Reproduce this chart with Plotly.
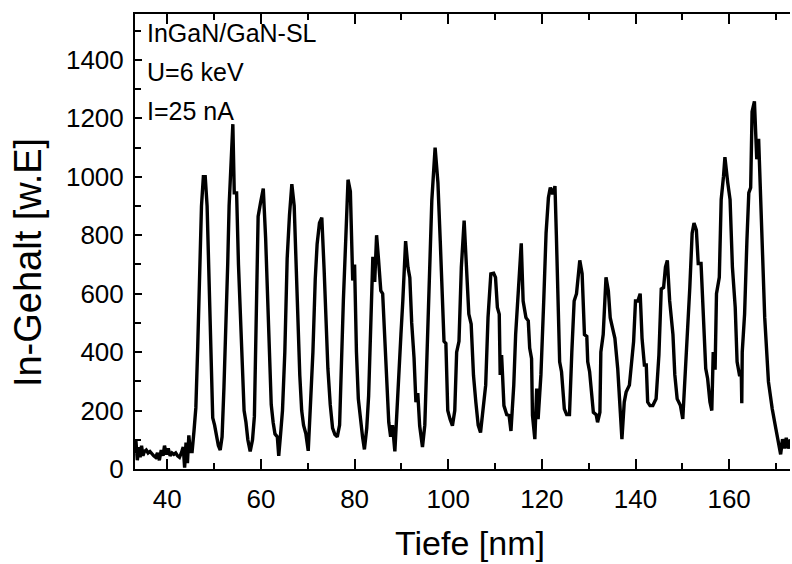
import plotly.graph_objects as go

# Depth [nm]
tiefe = [
    33.0, 33.3, 33.6, 33.9, 34.2, 34.5, 34.8, 35.1, 35.5, 35.9, 36.3, 36.7, 37.1, 37.5, 37.9,
    38.3, 38.7, 39.1, 39.4, 39.8, 40.2, 40.6, 41.0, 41.4, 41.8, 42.2, 42.6, 43.0, 43.4, 43.7,
    44.0, 44.3, 44.6, 44.9, 45.3, 45.7, 46.1, 46.5, 46.9, 47.3, 47.7, 48.1, 48.5, 48.9, 49.3,
    49.7, 50.1, 50.5, 50.9, 51.3, 51.7, 52.1, 52.5, 52.9, 53.2, 53.6, 54.0, 54.3, 54.8, 55.2,
    55.6, 56.0, 56.4, 56.8, 57.2, 57.7, 58.2, 58.6, 59.0, 59.4, 59.9, 60.5, 61.0, 61.4, 61.8,
    62.2, 62.6, 63.0, 63.5, 63.8, 64.2, 64.6, 65.1, 65.6, 66.1, 66.6, 67.1, 67.5, 67.9, 68.3,
    68.7, 69.1, 69.6, 70.1, 70.6, 71.1, 71.6, 72.0, 72.5, 73.0, 73.5, 73.9, 74.3, 74.8, 75.3,
    75.8, 76.3, 76.8, 77.2, 77.6, 78.1, 78.6, 79.1, 79.4, 79.6, 80.0, 80.4, 80.8, 81.3, 81.7,
    82.1, 82.6, 83.0, 83.5, 83.9, 84.3, 84.7, 85.1, 85.6, 86.0, 86.4, 86.8, 87.3, 87.7, 88.1,
    88.6, 89.0, 89.5, 89.9, 90.3, 90.9, 91.4, 91.8, 92.2, 92.7, 93.1, 93.5, 93.9, 94.5, 95.0,
    95.5, 96.0, 96.5, 97.2, 97.8, 98.3, 98.8, 99.1, 99.5, 99.9, 100.4, 100.9, 101.4, 101.8, 102.3,
    102.8, 103.4, 103.9, 104.4, 104.9, 105.4, 105.9, 106.4, 106.9, 107.5, 108.0, 108.5, 109.1, 109.7, 110.1,
    110.5, 110.9, 111.1, 111.4, 111.6, 111.9, 112.5, 113.0, 113.4, 114.0, 114.4, 115.0, 115.6, 116.0, 116.6,
    117.1, 117.4, 117.8, 118.0, 118.5, 118.9, 119.2, 119.8, 120.4, 120.9, 121.4, 121.8, 122.3, 122.8, 123.1,
    123.4, 123.8, 124.2, 124.8, 125.3, 125.9, 126.4, 126.9, 127.4, 128.1, 128.6, 129.1, 129.6, 129.8, 130.2,
    130.7, 131.0, 131.6, 131.9, 132.4, 132.6, 133.1, 133.7, 134.2, 134.6, 135.1, 135.6, 136.2, 136.7, 137.1,
    137.6, 138.0, 138.7, 139.3, 139.6, 140.0, 140.5, 141.0, 141.4, 141.9, 142.3, 142.6, 143.1, 143.7, 144.4,
    145.0, 145.5, 146.0, 146.4, 146.8, 147.3, 148.0, 148.4, 148.9, 149.6, 150.1, 150.8, 151.6, 152.1, 152.5,
    153.0, 153.4, 154.0, 154.4, 155.0, 155.4, 155.9, 156.3, 156.6, 157.0, 157.3, 157.9, 158.3, 158.8, 159.1,
    159.7, 160.2, 160.7, 161.3, 161.7, 162.2, 162.6, 162.7, 162.8, 163.3, 163.8, 164.2, 164.6, 164.9, 165.4,
    165.9, 166.3, 166.9, 167.6, 168.4, 169.2, 170.0, 170.5, 171.0, 171.4, 171.8, 172.2, 172.6, 173.0, 173.4,
]

# In content [arb. units]
gehalt = [
    55, 95, 30, 75, 40, 80, 45, 60, 65, 55, 60, 50, 45, 40, 55,
    30, 65, 45, 80, 50, 70, 45, 55, 50, 55, 45, 40, 55, 75, 5,
    90, 20, 115, 60, 60, 130, 210, 420, 690, 900, 1000, 1000, 900, 620, 380,
    175, 150, 120, 80, 65, 110, 280, 460, 700, 900, 1070, 1180, 945, 945, 700,
    520, 300, 200, 160, 100, 60, 100, 180, 500, 864, 910, 960, 790, 620, 460,
    220, 160, 120, 110, 45, 120, 200, 400, 720, 870, 975, 900, 700, 500, 320,
    200, 150, 120, 62, 229, 400, 650, 770, 842, 860, 680, 480, 344, 220, 140,
    118, 110, 150, 380, 575, 780, 990, 950, 700, 645, 700, 400, 240, 160, 110,
    67, 140, 250, 500, 726, 640, 800, 720, 610, 600, 480, 350, 160, 110, 150,
    60, 200, 380, 460, 575, 780, 690, 655, 500, 380, 229, 260, 148, 75, 150,
    390, 690, 920, 1100, 980, 780, 560, 437, 430, 200, 170, 148, 200, 400, 437,
    690, 850, 690, 530, 496, 320, 229, 150, 125, 206, 287, 518, 668, 670, 656,
    553, 530, 322, 390, 322, 217, 186, 183, 130, 287, 460, 633, 772, 575, 518,
    507, 414, 378, 183, 102, 275, 171, 322, 575, 807, 928, 963, 940, 968, 800,
    575, 367, 333, 206, 186, 186, 400, 575, 600, 714, 668, 460, 454, 367, 333,
    229, 194, 186, 160, 194, 400, 460, 656, 610, 518, 482, 447, 344, 229, 102,
    229, 263, 287, 390, 437, 575, 575, 600, 447, 356, 356, 229, 217, 217, 240,
    390, 616, 621, 691, 714, 575, 460, 322, 240, 217, 171, 367, 621, 807, 842,
    818, 703, 703, 575, 344, 310, 229, 200, 400, 340, 600, 656, 922, 1002, 1067,
    980, 922, 691, 553, 367, 322, 322, 225, 400, 530, 783, 945, 963, 1223, 1258,
    1060, 1130, 807, 518, 298, 206, 136, 90, 50, 102, 70, 107, 70, 100, 90,
]

xticks = [40, 60, 80, 100, 120, 140, 160]
yticks = [0, 200, 400, 600, 800, 1000, 1200, 1400]
info_lines = ["InGaN/GaN-SL", "U=6 keV", "I=25 nA"]

FONT = "Arial, Liberation Sans, sans-serif"

fig = go.Figure()
fig.add_trace(go.Scatter(
    x=tiefe, y=gehalt, mode="lines",
    line=dict(color="black", width=3.4),
    showlegend=False,
))

fig.update_layout(
    width=792, height=564,
    margin=dict(l=135, r=2, t=14, b=95),
    paper_bgcolor="white", plot_bgcolor="white",
    font=dict(family=FONT, color="black", size=26),
)

fig.update_xaxes(
    range=[33.1, 173.0],
    tickvals=xticks, ticktext=[str(v) for v in xticks],
    ticks="inside", ticklen=10, tickwidth=2, tickcolor="black",
    minor=dict(dtick=10, tick0=0, ticks="inside", ticklen=6, tickwidth=2, tickcolor="black"),
    showline=True, linecolor="black", linewidth=2, mirror="ticks",
    showgrid=False, zeroline=False,
    tickfont=dict(size=26, family=FONT),
    ticklabelstandoff=6,
)
fig.update_yaxes(
    range=[0, 1557],
    tickvals=yticks, ticktext=[str(v) for v in yticks],
    ticks="inside", ticklen=7, tickwidth=2, tickcolor="black",
    minor=dict(dtick=100, tick0=0, ticks="inside", ticklen=6, tickwidth=2, tickcolor="black"),
    showline=True, linecolor="black", linewidth=2,
    showgrid=False, zeroline=False,
    tickfont=dict(size=26, family=FONT),
    ticklabelstandoff=4,
)

ys = [0.958, 0.8725, 0.787]
for txt, yy in zip(info_lines, ys):
    fig.add_annotation(
        text=txt, xref="paper", yref="paper", x=0.015, y=yy,
        xanchor="left", yanchor="middle", showarrow=False,
        font=dict(size=25, family=FONT, color="black"),
    )

fig.add_annotation(
    text="Tiefe [nm]", xref="paper", yref="paper", x=0.511, y=-0.163,
    xanchor="center", yanchor="middle", showarrow=False,
    font=dict(size=34, family=FONT, color="black"),
)
fig.add_annotation(
    text="In-Gehalt [w.E]", xref="paper", yref="paper", x=-0.163, y=0.453,
    xanchor="center", yanchor="middle", showarrow=False, textangle=-90,
    font=dict(size=38, family=FONT, color="black"),
)

fig.write_html(
    "out.html",
    config={"displayModeBar": False},
    post_script="document.body.style.margin='0';document.body.style.overflow='hidden';",
)
